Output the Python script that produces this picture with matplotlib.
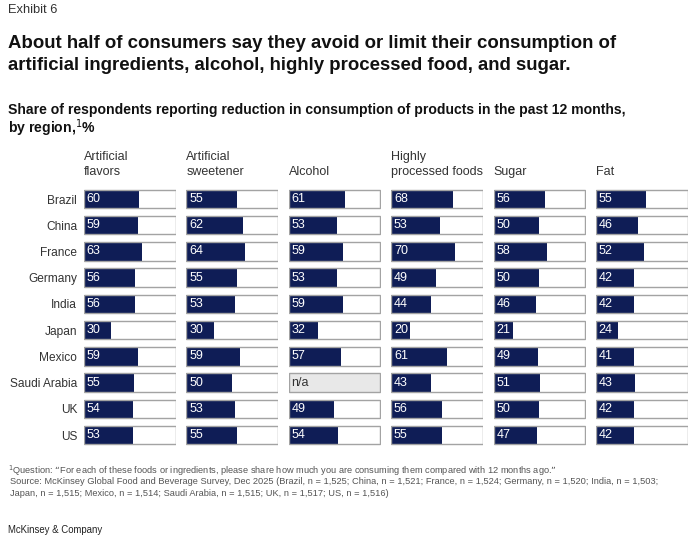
import matplotlib
matplotlib.use("Agg")
import matplotlib.pyplot as plt

plt.rcParams['font.family'] = ['Liberation Sans', 'DejaVu Sans']

W, H = 695, 560

regions = ["Brazil", "China", "France", "Germany", "India", "Japan",
           "Mexico", "Saudi Arabia", "UK", "US"]
columns = ["Artificial\nflavors", "Artificial\nsweetener", "Alcohol",
           "Highly\nprocessed foods", "Sugar", "Fat"]

artificial_flavors = [60, 59, 63, 56, 56, 30, 59, 55, 54, 53]
artificial_sweetener = [55, 62, 64, 55, 53, 30, 59, 50, 53, 55]
alcohol = [61, 53, 59, 53, 59, 32, 57, None, 49, 54]
processed_foods = [68, 53, 70, 49, 44, 20, 61, 43, 56, 55]
sugar = [56, 50, 58, 50, 46, 21, 49, 51, 50, 47]
fat = [55, 46, 52, 42, 42, 24, 41, 43, 42, 42]

series = [artificial_flavors, artificial_sweetener, alcohol,
          processed_foods, sugar, fat]

NAVY = "#0f1d56"
EDGE = "#a3a3a3"

fig = plt.figure(figsize=(W / 100, H / 100), dpi=100)


def ftext(x, y, s, **kw):
    fig.text(x / W, 1 - y / H, s, **kw)


ftext(8, 10, "Exhibit 6", fontsize=9.3, color="#333333", va="center")
ftext(8, 43, "About half of consumers say they avoid or limit their consumption of",
      fontsize=13.4, fontweight="bold", color="#111111", va="center")
ftext(8, 66, "artificial ingredients, alcohol, highly processed food, and sugar.",
      fontsize=13.4, fontweight="bold", color="#111111", va="center")
ftext(8, 110, "Share of respondents reporting reduction in consumption of products in the past 12 months,",
      fontsize=10.1, fontweight="bold", color="#111111", va="center")
ftext(8, 128, r"by region,$^{1}$%", fontsize=10.1, fontweight="bold",
      color="#111111", va="center")

# column panels
row_top, row_bot = 199, 435
step = (row_bot - row_top) / (len(regions) - 1)
ax_top = row_top - step / 2
ax_bot = row_bot + step / 2
col_w = 92
col_step = 102.4
ypos = list(range(len(regions)))

for i, (name, vals) in enumerate(zip(columns, series)):
    left = 84 + i * col_step
    ax = fig.add_axes([left / W, 1 - ax_bot / H, col_w / W, (ax_bot - ax_top) / H])
    na = [v is None for v in vals]
    nums = [0 if v is None else v for v in vals]
    ax.barh(ypos, [100] * len(vals), height=0.7,
            color=["#e8e8e8" if n else "white" for n in na], zorder=1)
    ax.barh(ypos, nums, height=0.7, color=NAVY, zorder=2)
    ax.barh(ypos, [100] * len(vals), height=0.7, fill=False,
            edgecolor=EDGE, linewidth=1, zorder=3)
    for y, v in zip(ypos, vals):
        if v is None:
            ax.text(3, y, "n/a", color="#333333", fontsize=9, va="center", zorder=4)
        else:
            ax.text(3, y, str(v), color="white", fontsize=9, va="center", zorder=4)
    ax.set_xlim(0, 100.5)
    ax.set_ylim(len(regions) - 0.5, -0.5)
    ax.set_xticks([])
    for sp in ax.spines.values():
        sp.set_visible(False)
    if i == 0:
        ax.set_yticks(ypos)
        ax.set_yticklabels(regions, fontsize=8.6, color="#333333")
        ax.tick_params(axis="y", length=0, pad=5)
    else:
        ax.set_yticks([])
    ftext(left, 175, name, fontsize=9, color="#333333", va="baseline",
          linespacing=1.3)

foot_kw = dict(fontsize=6.7, color="#555555", va="center")
ftext(8, 471, "$^{1}$Question: \u201cFor each of these foods or ingredients, please share how much you are consuming them compared with 12 months ago.\u201d",
      **foot_kw)
ftext(10, 482, "Source: McKinsey Global Food and Beverage Survey, Dec 2025 (Brazil, n = 1,525; China, n = 1,521; France, n = 1,524; Germany, n = 1,520; India, n = 1,503;",
      **foot_kw)
ftext(10, 493, "Japan, n = 1,515; Mexico, n = 1,514; Saudi Arabia, n = 1,515; UK, n = 1,517; US, n = 1,516)",
      **foot_kw)
ftext(8, 530, "McKinsey & Company", fontsize=6.9, color="#222222", va="center")

fig.savefig("out.png", dpi=100, facecolor="white")
